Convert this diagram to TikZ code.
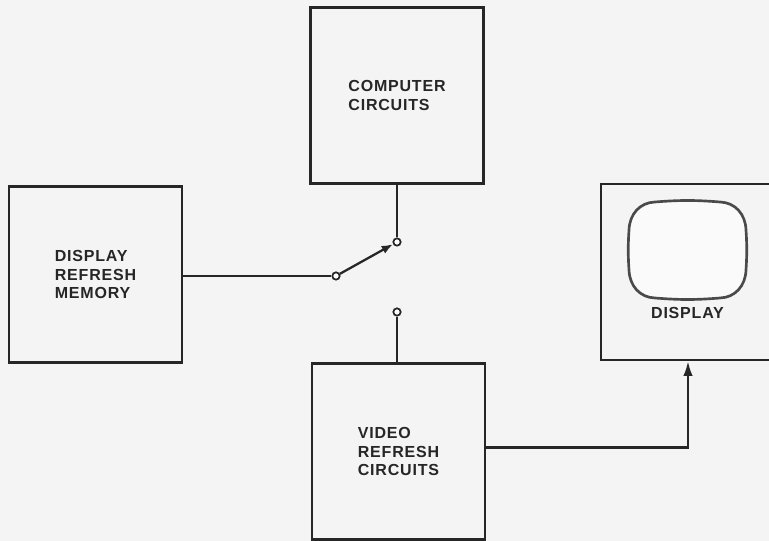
\documentclass[tikz,border=0pt]{standalone}
\usepackage{fontspec}
\usepackage{tikz}
\usetikzlibrary{positioning,arrows.meta}
\newfontfamily\blockfont[LetterSpace=5]{Liberation Sans}
\definecolor{BDPaper}{HTML}{F4F4F4}
\definecolor{BDInk}{HTML}{262626}
\definecolor{BDScreen}{HTML}{4A4A4A}

\begin{document}
\begin{tikzpicture}[x=0.75pt,y=-0.75pt,
  block/.style={draw=BDInk,line width=1.8pt,minimum width=130pt,minimum height=132pt,
                align=left,inner sep=0pt,
                font=\blockfont\bfseries\fontsize{12}{14}\selectfont,text=BDInk},
  wire/.style={draw=BDInk,line width=1.7pt},
  contact/.style={circle,draw=BDInk,line width=1.3pt,fill=white,minimum size=5.5pt,inner sep=0pt},
  tip/.style={-{Latex[length=11pt,width=7pt]}},
  armtip/.style={-{Latex[length=8.5pt,width=6.5pt]}}]
  \fill[BDPaper] (0,0) rectangle (769,541);
  \clip (0,0) rectangle (769,541);
  % blocks
  \node[block] (memory) at (95.5,274.5) {DISPLAY\\REFRESH\\MEMORY};
  \node[block] (computer) at (397,95.5) {COMPUTER\\CIRCUITS};
  \node[block] (video) at (398.5,451.5) {VIDEO\\REFRESH\\CIRCUITS};
  \node[block,minimum width=130.5pt] (display) at (688,272) {};
  % screen
  \draw[BDScreen,line width=2pt,fill=white!55!BDPaper]
    (655,202) .. controls (680,200) and (695,200) .. (720,202)
    .. controls (735,202.5) and (745.5,214) .. (746,230)
    .. controls (747,245) and (747,255) .. (746,270)
    .. controls (745.5,286) and (735,297.5) .. (720,298)
    .. controls (695,300) and (680,300) .. (655,298)
    .. controls (640,297.5) and (629.5,286) .. (629,270)
    .. controls (628,255) and (628,245) .. (629,230)
    .. controls (629.5,214) and (640,202.5) .. (655,202) -- cycle;
  \node[font=\blockfont\bfseries\fontsize{12}{14}\selectfont,text=BDInk] (dlabel) at (687.5,313) {DISPLAY};
  % switch
  \node[contact] (pivot) at (336,276) {};
  \node[contact] (upper) at (397,242) {};
  \node[contact] (lower) at (397,312) {};
  \draw[wire] (memory.east |- pivot) -- (pivot);
  \draw[wire] (computer.south) -- (upper);
  \draw[wire,armtip] (pivot) -- (upper);
  \draw[wire] (lower) -- (lower |- video.north);
  \draw[wire,tip] ([yshift=3pt]video.east) -| (display.south);
\end{tikzpicture}
\end{document}
